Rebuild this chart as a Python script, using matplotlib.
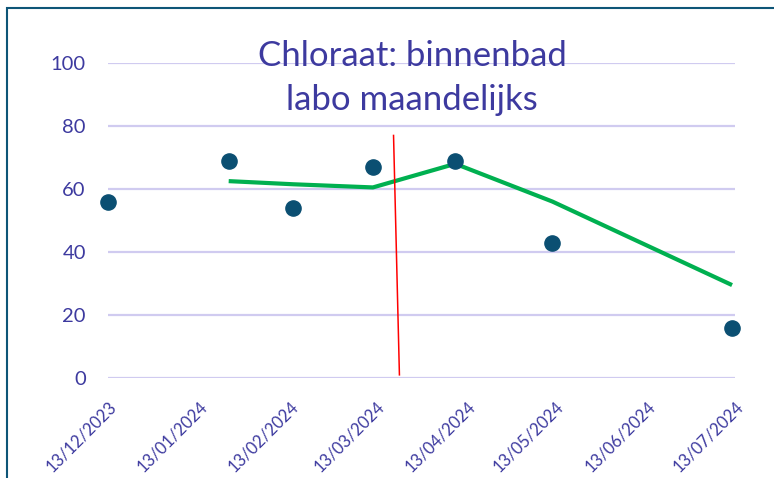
import matplotlib
matplotlib.use("Agg")
import matplotlib.pyplot as plt
import matplotlib.dates as mdates
from matplotlib.patches import Rectangle
import pandas as pd

# measurements (labo, monthly)
dates = pd.to_datetime(["2023-12-13", "2024-01-23", "2024-02-14", "2024-03-12",
                        "2024-04-09", "2024-05-12", "2024-07-12"])
chlorate = [56, 69, 54, 67, 69, 43, 16]

# red marker line (drawn shape)
marker_dates = pd.to_datetime(["2024-03-19", "2024-03-21"])
marker_vals = [77, 1]

tick_dates = pd.to_datetime(["2023-12-13", "2024-01-13", "2024-02-13", "2024-03-13",
                             "2024-04-13", "2024-05-13", "2024-06-13", "2024-07-13"])

text_col = "#3d3a9f"
grid_col = "#d0cbf0"

plt.rcParams["font.family"] = ["Lato", "DejaVu Sans"]

fig = plt.figure(figsize=(7.74, 4.78), dpi=100)
ax = fig.add_axes([108 / 774, 1 - 378 / 478, (735 - 108) / 774, (378 - 63) / 478])

# 2-period moving average trendline
trend = pd.Series(chlorate).rolling(2).mean()

ax.plot(dates, trend, color="#00b050", lw=3, solid_capstyle="butt", zorder=3)
ax.scatter(dates, chlorate, s=120, color="#0b4f72", zorder=4, clip_on=False)
ax.plot(marker_dates, marker_vals, color="#ff0000", lw=1.1, zorder=5)

ax.set_xlim(tick_dates[0], tick_dates[-1])
ax.set_ylim(0, 100)
ax.set_yticks(range(0, 101, 20))
ax.set_xticks(tick_dates)
ax.xaxis.set_major_formatter(mdates.DateFormatter("%d/%m/%Y"))
ax.grid(axis="y", color=grid_col, lw=1.6)
ax.set_axisbelow(True)
for s in ax.spines.values():
    s.set_visible(False)
ax.tick_params(length=0, colors=text_col)
ax.tick_params(axis="y", labelsize=14.5, pad=16)
ax.tick_params(axis="x", labelsize=12, pad=15)
for lab in ax.get_xticklabels():
    lab.set_rotation(45)
    lab.set_ha("right")
    lab.set_rotation_mode("anchor")

fig.text(412 / 774, 1 - 78 / 478, "Chloraat: binnenbad\nlabo maandelijks",
         ha="center", va="center", color=text_col, fontsize=25, linespacing=1.45)

fig.patches.append(Rectangle((6.5 / 774, -0.1), 1.2, 1 - 8.5 / 478 + 0.1,
                             transform=fig.transFigure, fill=False,
                             edgecolor="#0e5577", lw=1.5))

fig.savefig("out.png", dpi=100)
